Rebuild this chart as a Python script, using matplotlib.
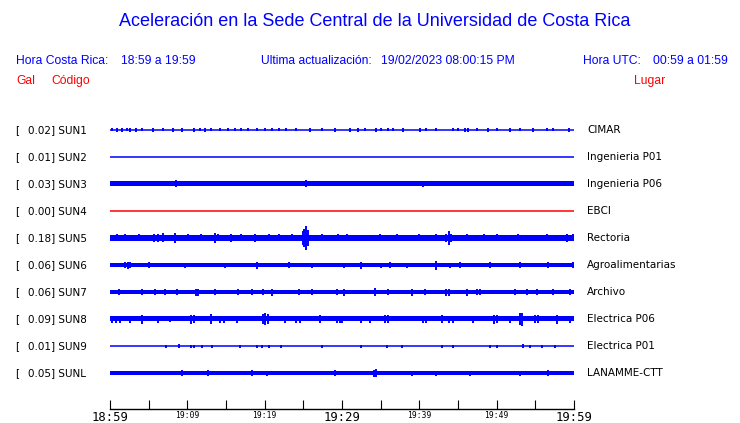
import matplotlib
matplotlib.use("Agg")
import matplotlib.pyplot as plt

# station info, top to bottom
codes = ["SUN1", "SUN2", "SUN3", "SUN4", "SUN5", "SUN6", "SUN7", "SUN8", "SUN9", "SUNL"]
peak_gal = [0.02, 0.01, 0.03, 0.00, 0.18, 0.06, 0.06, 0.09, 0.01, 0.05]
places = ["CIMAR", "Ingenieria P01", "Ingenieria P06", "EBCI", "Rectoria",
          "Agroalimentarias", "Archivo", "Electrica P06", "Electrica P01", "LANAMME-CTT"]
trace_colors = ["blue", "blue", "blue", "red", "blue", "blue", "blue", "blue", "blue", "blue"]

# half-width of the continuous noise band for each trace (0 = plain line)
band = [0.0, 0.0, 2.5, 0.0, 3.0, 2.0, 2.3, 2.5, 0.0, 2.2]

# spikes: minutes after 18:59 and half-amplitude
sun1_t = [0.2, 0.9, 1.5, 2.2, 2.6, 3.4, 4.1, 5.6, 6.9, 8.2, 9.3, 10.8, 11.6, 12.3, 13.1,
          14.2, 15.3, 16.2, 17.0, 17.9, 19.0, 20.0, 20.9, 21.8, 22.8, 24.1, 25.9, 27.4,
          29.1, 31.0, 32.1, 33.0, 34.4, 35.1, 36.0, 36.6, 37.9, 40.1, 40.9, 42.2, 44.4,
          45.0, 45.9, 46.3, 47.4, 48.9, 50.0, 51.7, 53.0, 54.7, 56.5, 57.3, 59.3]
sun1_a = [1.5, 2, 2, 1.5, 2, 2, 1.5, 2, 1.5, 2, 2, 2, 1.5, 2, 1.5,
          1.5, 1.5, 1.5, 1.5, 1.5, 1.5, 1.5, 1.5, 1.5, 1.5, 1.5, 2, 1.5,
          2, 2, 2, 1.5, 2, 1.5, 1.5, 1.5, 2, 2, 1.5, 1.5, 1.5,
          1.5, 2, 2, 1.5, 2, 1.5, 2, 1.5, 2, 1.5, 1.5, 2]
sun3_t = [8.5, 25.4, 40.5]
sun3_a = [3.5, 3.5, 3]
sun5_t = [0.9, 1.9, 3.7, 5.7, 6.2, 6.8, 8.4, 10.1, 11.8, 13.6, 14.0, 15.7, 17.0, 18.7,
          20.5, 21.8, 23.5, 24.9, 25.1, 25.4, 25.6, 27.4, 29.5, 30.6, 34.9, 37.1, 39.9,
          42.2, 43.4, 43.8, 44.1, 46.1, 48.3, 50.0, 52.8, 56.5, 59.1, 59.9]
sun5_a = [3.5, 3.5, 3.5, 4, 4, 4.5, 5, 3.5, 3.5, 5, 3.5, 4, 3.5, 4,
          3.5, 3.5, 3.5, 7, 9, 12, 8, 3.5, 3.5, 3.5, 3.5, 3.5, 3.5,
          3.5, 4, 7, 4, 3.5, 3.5, 3.5, 3.5, 3.5, 4, 3.5]
sun6_t = [1.9, 2.3, 2.6, 5.0, 9.7, 14.9, 19.0, 23.1, 26.1, 30.2, 32.5, 35.1, 36.2,
          38.4, 42.2, 44.0, 45.3, 49.1, 53.0, 56.7, 59.9]
sun6_a = [3, 3.5, 3, 3, 2.5, 2.5, 3.5, 3, 2.5, 2.5, 3.5, 2.5, 3,
          2.5, 4.5, 2.5, 3, 3, 3, 3, 3]
sun7_t = [1.1, 4.1, 5.8, 7.1, 8.6, 11.1, 11.4, 13.6, 16.6, 18.3, 19.8, 20.9, 24.4,
          26.1, 29.3, 30.2, 34.3, 36.0, 39.0, 40.7, 43.5, 43.8, 46.1, 47.4, 47.8,
          52.4, 53.9, 55.2, 57.3, 59.5]
sun7_a = [3, 3, 3, 3, 3, 3.5, 3.5, 3, 3, 3, 3, 3.5, 3,
          3, 3, 3.5, 4, 3, 3.5, 3, 3.5, 3.5, 3.5, 3, 3,
          3, 3, 3, 3, 3]
sun8_t = [0.3, 0.8, 1.3, 2.6, 4.1, 6.2, 7.8, 10.5, 10.8, 13.1, 14.2, 14.8, 16.4,
          19.8, 20.1, 20.4, 22.6, 24.0, 24.6, 27.2, 29.3, 29.8, 30.0, 32.5, 33.6,
          35.5, 35.9, 40.5, 40.9, 42.9, 43.9, 44.3, 47.0, 49.6, 50.0, 51.7, 53.0,
          53.3, 55.0, 55.4, 57.8, 59.5]
sun8_a = [3.5, 3.5, 3.5, 3.5, 4.5, 3.5, 3, 4.5, 4, 5, 3.5, 3.5, 3.5,
          5, 6, 5, 3.5, 3.5, 3.5, 4, 3.5, 3.5, 3.5, 3.5, 3.5,
          4, 4, 3.5, 3.5, 4, 3.5, 3.5, 3.5, 4.5, 4, 3.5, 6,
          6.5, 4, 4, 4.5, 3.5]
sun9_t = [7.3, 8.9, 10.5, 10.9, 11.9, 13.2, 16.8, 19.0, 19.6, 20.5, 22.1, 27.4,
          32.5, 35.8, 37.8, 42.9, 44.3, 49.1, 50.0, 53.4, 54.3, 55.8, 57.5]
sun9_a = [1.5, 2, 1.5, 1.5, 1.5, 1.5, 1.5, 1.5, 1.5, 1.5, 1.5, 1.5,
          1.5, 1.5, 1.5, 1.5, 1.5, 1.5, 1.5, 2, 1.5, 1.5, 1.5]
sunl_t = [9.3, 12.7, 18.3, 20.3, 29.1, 34.1, 34.4, 39.0, 42.2, 46.6, 53.0, 56.7]
sunl_a = [3, 3, 3, 2.5, 3, 3.5, 4, 2.5, 2.5, 2.5, 2.5, 3]

spike_t = [sun1_t, [], sun3_t, [], sun5_t, sun6_t, sun7_t, sun8_t, sun9_t, sunl_t]
spike_a = [sun1_a, [], sun3_a, [], sun5_a, sun6_a, sun7_a, sun8_a, sun9_a, sunl_a]

tick_minutes = [0, 10, 20, 30, 40, 50, 60]
tick_labels = ["18:59", "19:09", "19:19", "19:29", "19:39", "19:49", "19:59"]
big_ticks = ["18:59", "19:29", "19:59"]

W, H = 740, 423
fig = plt.figure(figsize=(W / 100, H / 100), dpi=100)
BLUE = "#0000ff"
RED = "#ff0000"

def ftext(px, py, s, **kw):
    fig.text(px / W, 1 - py / H, s, **kw)

# traces area: x 110..574 px, rows 27 px apart, axis line at 409 px
row = 27
ax = fig.add_axes([110 / W, 1 - 409 / H, 464 / W, 306 / H])
ax.set_xlim(0, 60)
ax.set_ylim(9 * row + 36, -row)

for i in range(len(codes)):
    y0 = i * row
    c = trace_colors[i]
    if band[i] > 0:
        ax.fill_between([0, 60], y0 - band[i], y0 + band[i], color=c, lw=0)
    else:
        ax.plot([0, 60], [y0, y0], color=c, lw=1.1)
    if spike_t[i]:
        ya = [y0 - a for a in spike_a[i]]
        yb = [y0 + a for a in spike_a[i]]
        ax.vlines(spike_t[i], ya, yb, color=c, lw=1.4)

    ftext(15, 130 + y0, "[", fontsize=7.5, va="center", family="DejaVu Sans")
    ftext(28, 130 + y0, "%.2f] %s" % (peak_gal[i], codes[i]), fontsize=7.5,
          va="center", family="DejaVu Sans")
    ftext(587, 130 + y0, places[i], fontsize=7.5, va="center", family="DejaVu Sans")

for s in ["top", "left", "right"]:
    ax.spines[s].set_visible(False)
ax.spines["bottom"].set_linewidth(1.0)
ax.set_yticks([])
ax.set_xticks(tick_minutes)
ax.set_xticks([5, 15, 25, 35, 45, 55], minor=True)
ax.set_xticklabels(tick_labels, family="DejaVu Sans Mono")
ax.tick_params(axis="x", which="both", direction="in", length=6.5, width=0.8, pad=1.5)
for lab in ax.get_xticklabels():
    if lab.get_text() in big_ticks:
        lab.set_fontsize(8.8)
    else:
        lab.set_fontsize(5.8)

# header texts
hf = "Liberation Sans"
ftext(375, 21, "Aceleración en la Sede Central de la Universidad de Costa Rica",
      fontsize=13, color=BLUE, ha="center", va="center", family=hf)
ftext(16, 61, "Hora Costa Rica:", fontsize=8.7, color=BLUE, va="center", family=hf)
ftext(121, 61, "18:59 a 19:59", fontsize=8.7, color=BLUE, va="center", family=hf)
ftext(261, 61, "Ultima actualización:", fontsize=8.7, color=BLUE, va="center", family=hf)
ftext(381, 61, "19/02/2023 08:00:15 PM", fontsize=8.7, color=BLUE, va="center", family=hf)
ftext(583, 61, "Hora UTC:", fontsize=8.7, color=BLUE, va="center", family=hf)
ftext(653, 61, "00:59 a 01:59", fontsize=8.7, color=BLUE, va="center", family=hf)
ftext(16, 81, "Gal", fontsize=8.7, color=RED, va="center", family=hf)
ftext(51, 81, "Código", fontsize=8.7, color=RED, va="center", family=hf)
ftext(634, 81, "Lugar", fontsize=8.7, color=RED, va="center", family=hf)

fig.savefig("out.png", dpi=100)
